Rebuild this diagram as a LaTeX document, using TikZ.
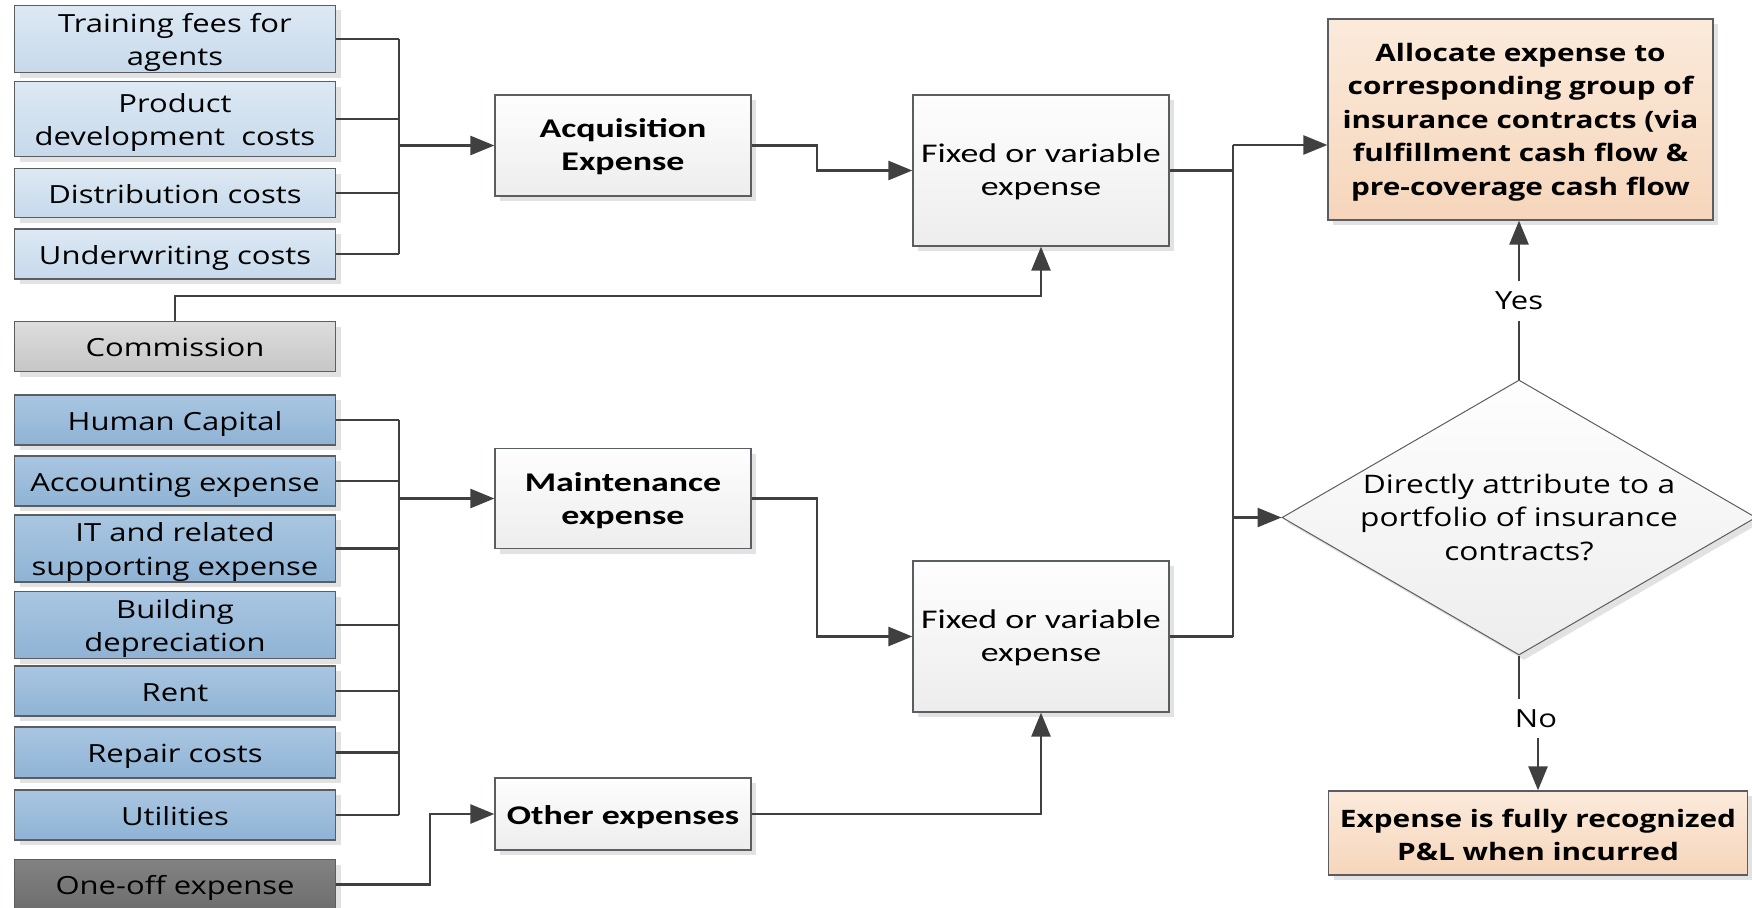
\documentclass[tikz,border=0pt]{standalone}
\usepackage{fontspec}
\setmainfont{Open Sans}[FakeStretch=1.24]
\newfontfamily\calfont{Carlito}[FakeStretch=1.33]
\usetikzlibrary{arrows.meta,shapes.geometric,shadows}
\definecolor{lineC}{HTML}{404040}
\definecolor{bordC}{HTML}{5A5E63}
\definecolor{shadC}{HTML}{E2E2E2}
\definecolor{tbA}{HTML}{DDE9F4}
\definecolor{tbB}{HTML}{C6D9EB}
\definecolor{mbA}{HTML}{A9C6E1}
\definecolor{mbB}{HTML}{8FB3D5}
\definecolor{gyA}{HTML}{DDDDDD}
\definecolor{gyB}{HTML}{C6C6C6}
\definecolor{dgA}{HTML}{828282}
\definecolor{dgB}{HTML}{6E6E6E}
\definecolor{wA}{HTML}{FEFEFE}
\definecolor{wB}{HTML}{EDEDED}
\definecolor{orA}{HTML}{FBEADB}
\definecolor{orB}{HTML}{F6D6BB}
\newcommand\bx[2][2.2pt]{\raisebox{-#1}[\height][\depth]{\begin{tabular}{@{}c@{}}#2\end{tabular}}}
\newcommand\lx[1]{\bx[3.5pt]{#1}}
\begin{document}
\begin{tikzpicture}[x=1pt,y=-1pt,
  box/.style={draw=bordC, line width=1.3pt, inner xsep=2pt, inner ysep=0pt,
    general shadow={fill=shadC, shadow xshift=5pt, shadow yshift=-5pt}},
  lbox/.style={box, minimum width=321pt, font=\fontsize{25}{33.5}\selectfont},
  topblue/.style={lbox, top color=tbA, bottom color=tbB},
  midblue/.style={lbox, top color=mbA, bottom color=mbB},
  graybox/.style={lbox, top color=gyA, bottom color=gyB},
  darkbox/.style={lbox, top color=dgA, bottom color=dgB},
  midbox/.style={box, minimum width=256pt, top color=wA, bottom color=wB,
    font=\calfont\fontsize{27}{33.5}\selectfont},
  midbold/.style={midbox, font=\calfont\bfseries\fontsize{27}{33.5}\selectfont},
  orbox/.style={box, top color=orA, bottom color=orB,
    font=\bfseries\fontsize{24}{33.5}\selectfont},
  diashape/.style={diamond, draw=bordC, line width=1pt, inner sep=0pt,
    aspect=1.72, minimum width=474pt, minimum height=275pt,
    top color=wA, bottom color=wB,
    general shadow={fill=shadC, shadow xshift=5pt, shadow yshift=-5pt}},
  diatext/.style={inner sep=0pt, font=\fontsize{25.5}{33.5}\selectfont},
  lab/.style={fill=white, inner sep=3pt, font=\fontsize{25}{33.5}\selectfont},
  ln/.style={draw=lineC, line width=2.6pt},
  arr/.style={ln, -{Triangle[length=24pt,width=19pt]}}
]
\useasboundingbox (0,0) rectangle (1752,907);
% left column
\node[topblue, minimum height=65pt] (t1) at (175,39) {\lx{Training fees for\\agents}};
\node[topblue, minimum height=75pt] (t2) at (175,119) {\lx{Product\\development~ costs}};
\node[topblue, minimum height=49pt] (t3) at (175,193) {\lx{Distribution costs}};
\node[topblue, minimum height=50pt] (t4) at (175,254) {\lx{Underwriting costs}};
\node[graybox, minimum height=50pt] (comm) at (175,346.5) {\lx{Commission}};
\node[midblue, minimum height=50pt] (m1) at (175,420) {\lx{Human Capital}};
\node[midblue, minimum height=50pt] (m2) at (175,481) {\lx{Accounting expense}};
\node[midblue, minimum height=67pt] (m3) at (175,548.5) {\lx{IT and related\\supporting expense}};
\node[midblue, minimum height=64pt] (m4) at (175,625) {\lx{Building\\depreciation}};
\node[midblue, minimum height=50pt] (m5) at (175,691) {\lx{Rent}};
\node[midblue, minimum height=51pt] (m6) at (175,752.5) {\lx{Repair costs}};
\node[midblue, minimum height=50pt] (m7) at (175,815) {\lx{Utilities}};
\node[darkbox, minimum height=50pt] (oneoff) at (175,884.5) {\lx{One-off expense}};
% middle column
\node[midbold, minimum height=101pt] (acq) at (623,145.5) {\bx[2pt]{Acquisition\\Expense}};
\node[midbold, minimum height=100pt] (maint) at (623,498.5) {\bx[2.8pt]{Maintenance\\expense}};
\node[midbold, minimum height=72pt] (other) at (623,814) {\bx[3.5pt]{Other expenses}};
\node[midbox, minimum height=151pt] (f1) at (1041,170.5) {\bx[2pt]{Fixed or variable\\expense}};
\node[midbox, minimum height=151pt] (f2) at (1041,636.5) {\bx[2pt]{Fixed or variable\\expense}};
% right column
\node[orbox, minimum width=385pt, minimum height=201pt] (alloc) at (1520.5,119.5)
  {\bx[2.2pt]{Allocate expense to\\corresponding group of\\insurance contracts (via\\fulfillment cash flow \&\\pre-coverage cash flow}};
\node[diashape] (dia) at (1519,517.5) {};
\node[diatext] (diat) at (dia.center) {\bx[2.4pt]{Directly attribute to a\\portfolio of insurance\\contracts?}};
\node[orbox, minimum width=419pt, minimum height=84pt] (pl) at (1538,833)
  {\bx[4.5pt]{Expense is fully recognized\\P\&L when incurred}};
% bus coordinates
\coordinate (bus1) at (399,0);
\coordinate (bus3) at (1233,145);
\coordinate (jog1) at (817,0);
\coordinate (jog3) at (430,0);
% acquisition bus
\foreach \n in {t1,t2,t3,t4} {\draw[ln] (\n.east) -- (\n.east -| bus1);}
\draw[ln] (t1.east -| bus1) -- (t4.east -| bus1);
\draw[arr] (acq.west -| bus1) -- (acq.west);
% maintenance bus
\foreach \n in {m1,m2,m3,m4,m5,m6,m7} {\draw[ln] (\n.east) -- (\n.east -| bus1);}
\draw[ln] (m1.east -| bus1) -- (m7.east -| bus1);
\draw[arr] (maint.west -| bus1) -- (maint.west);
% one-off
\draw[arr] (oneoff.east) -- (oneoff.east -| jog3) |- (other.west);
% middle to fixed
\draw[arr] (acq.east) -- (acq.east -| jog1) |- (f1.west);
\draw[arr] (maint.east) -- (maint.east -| jog1) |- (f2.west);
\draw[arr] (comm.north) -- ++(0,-25) -| (f1.south);
\draw[arr] (other.east) -| (f2.south);
% right bus
\draw[ln] (f1.east) -- (f1.east -| bus3);
\draw[ln] (f2.east) -- (f2.east -| bus3);
\draw[ln] (bus3) -- (f2.east -| bus3);
\draw[arr] (bus3) -- (bus3 -| alloc.west);
\draw[arr] (dia.west -| bus3) -- (dia.west);
% decision
\coordinate (yesp) at (1519,301);
\coordinate (nop) at (1519,718.5);
\draw[arr] (dia.north) -- (dia.north |- alloc.south);
\node[lab] (yes) at (yesp) {\bx{Yes}};
\draw[arr] (dia.south) -- (nop) -| (pl.north);
\node[lab] (no) at (1536,718.5) {\bx{No}};
\end{tikzpicture}
\end{document}
